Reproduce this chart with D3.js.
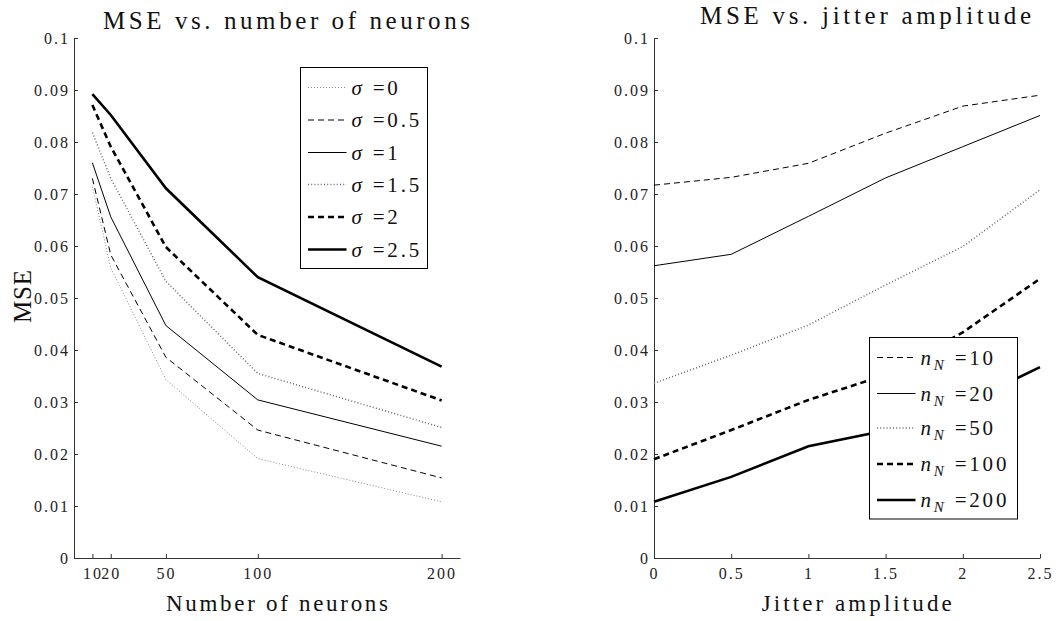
<!DOCTYPE html>
<html><head><meta charset="utf-8">
<script src="https://cdn.jsdelivr.net/npm/d3@7"></script>
<style>
body{margin:0;background:#fff;}
svg{display:block;}
svg text{font-family:"Liberation Serif","DejaVu Serif","Times New Roman",serif;}
.tick text{font-size:16px;letter-spacing:2px;fill:#222;}
.domain,.tick line{stroke:#333;stroke-width:1;}
</style>
</head><body>
<svg id="c" width="1059" height="621"></svg>
<script>
// ---- data ----
const neurons = [10, 20, 50, 100, 200];
const sigmaLabels = ["0", "0.5", "1", "1.5", "2", "2.5"];
const mseSigma0  = [0.0714, 0.0558, 0.0343, 0.0191, 0.0108];
const mseSigma05 = [0.0730, 0.0583, 0.0386, 0.0246, 0.0154];
const mseSigma1  = [0.0760, 0.0656, 0.0447, 0.0304, 0.0215];
const mseSigma15 = [0.0818, 0.0730, 0.0532, 0.0355, 0.0251];
const mseSigma2  = [0.0871, 0.0791, 0.0598, 0.0429, 0.0303];
const mseSigma25 = [0.0892, 0.0852, 0.0711, 0.0540, 0.0368];

const jitter = [0, 0.5, 1, 1.5, 2, 2.5];
const nLabels = ["10", "20", "50", "100", "200"];
const mseN10  = [0.0717, 0.0732, 0.0759, 0.0817, 0.0869, 0.0890];
const mseN20  = [0.0562, 0.0584, 0.0657, 0.0731, 0.0791, 0.0851];
const mseN50  = [0.0336, 0.0390, 0.0448, 0.0525, 0.0599, 0.0708];
const mseN100 = [0.0190, 0.0246, 0.0304, 0.0352, 0.0434, 0.0537];
const mseN200 = [0.0108, 0.0156, 0.0215, 0.0245, 0.0295, 0.0367];

const yTicks = [0, 0.01, 0.02, 0.03, 0.04, 0.05, 0.06, 0.07, 0.08, 0.09, 0.1];
const xTicksLeft = [10, 20, 50, 100, 200];
const xTicksRight = [0, 0.5, 1, 1.5, 2, 2.5];

// ---- styles ----
const styles = [
  {stroke:"#888", width:1,   dash:"1,2"},
  {stroke:"#000", width:1,   dash:"6,4"},
  {stroke:"#000", width:1,   dash:null},
  {stroke:"#666", width:1.5, dash:"1,2.2"},
  {stroke:"#000", width:2.6, dash:"6,4"},
  {stroke:"#000", width:2.6, dash:null}
];

const svg = d3.select("#c");
const y = d3.scaleLinear().domain([0, 0.1]).range([558, 38]);
const xL = d3.scaleLinear().domain([0, 210]).range([74, 460]);
const xR = d3.scaleLinear().domain([0, 2.5]).range([654, 1040]);
const fmtY = d => d === 0 ? "0" : d3.format(".2~f")(d);

function drawAxes(x, xticks, xfmt) {
  const gy = svg.append("g").attr("transform", `translate(${x.range()[0]},0)`)
    .call(d3.axisLeft(y).tickValues(yTicks).tickFormat(fmtY).tickSizeInner(-4).tickSizeOuter(0).tickPadding(4));
  gy.attr("font-family", null);
  gy.selectAll(".tick text").attr("dy", "0.33em");
  const gx = svg.append("g").attr("transform", `translate(0,${y(0)})`)
    .call(d3.axisBottom(x).tickValues(xticks).tickFormat(xfmt).tickSizeInner(-4).tickSizeOuter(0).tickPadding(10));
  gx.attr("font-family", null);
  gx.selectAll(".tick text").attr("dy", "0.71em");
}
drawAxes(xL, xTicksLeft, d => String(d));
drawAxes(xR, xTicksRight, d => String(d));

const line = (x, xs) => d3.line().x((d, i) => x(xs[i])).y(d => y(d));

const leftSeries = [mseSigma0, mseSigma05, mseSigma1, mseSigma15, mseSigma2, mseSigma25];
leftSeries.forEach((s, i) => {
  const st = styles[i];
  svg.append("path").datum(s).attr("d", line(xL, neurons))
    .attr("fill", "none").attr("stroke", st.stroke).attr("stroke-width", st.width)
    .attr("stroke-dasharray", st.dash).attr("stroke-linejoin", "miter");
});
const rightSeries = [mseN10, mseN20, mseN50, mseN100, mseN200];
rightSeries.forEach((s, i) => {
  const st = styles[i + 1];
  svg.append("path").datum(s).attr("d", line(xR, jitter))
    .attr("fill", "none").attr("stroke", st.stroke).attr("stroke-width", st.width)
    .attr("stroke-dasharray", st.dash);
});

// titles & labels
function txt(x, yy, s, size, len) {
  const t = svg.append("text").attr("x", x).attr("y", yy).text(s)
    .attr("font-size", size).attr("fill", "#111")
    .attr("text-anchor", "middle");
  if (len) t.attr("textLength", len).attr("lengthAdjust", "spacing");
  return t;
}
txt(286.5, 29, "MSE vs. number of neurons", 25, 367);
txt(865.5, 24, "MSE vs. jitter amplitude", 25, 331);
txt(277, 611, "Number of neurons", 23, 222);
txt(856.7, 611, "Jitter amplitude", 23, 190);
txt(0, 0, "MSE", 25, 53).attr("transform", "translate(31,296.5) rotate(-90)");

// legends
function legend(x0, y0, w, h, rows, rowY, styleOffset, labelFn) {
  const g = svg.append("g");
  g.append("rect").attr("x", x0).attr("y", y0).attr("width", w).attr("height", h)
    .attr("fill", "#fff").attr("stroke", "#000").attr("stroke-width", 1);
  rows.forEach((r, i) => {
    const st = styles[i + styleOffset];
    const yy = rowY[i];
    g.append("line").attr("x1", x0 + 7.5).attr("x2", x0 + 46).attr("y1", yy).attr("y2", yy)
      .attr("stroke", st.stroke).attr("stroke-width", st.width).attr("stroke-dasharray", st.dash);
    const t = g.append("text").attr("x", x0 + 51).attr("y", yy + 7)
      .attr("font-size", 21).attr("fill", "#111")
      .attr("letter-spacing", "2.8px");
    labelFn(t, r);
  });
}
legend(300.5, 67.5, 127, 201, sigmaLabels, [87.5, 120, 152.5, 184.5, 217, 249.5], 0, (t, r) => {
  t.append("tspan").attr("font-style", "italic").text("σ");
  t.append("tspan").text(" =" + r);
});
legend(869.5, 337.5, 148, 181.5, nLabels, [357.5, 393.5, 428, 464, 500], 1, (t, r) => {
  t.append("tspan").attr("font-style", "italic").text("n");
  t.append("tspan").attr("font-style", "italic").attr("font-size", 15).attr("dy", 5).text("N");
  t.append("tspan").attr("dy", -5).text(" =" + r);
});
</script>
</body></html>
